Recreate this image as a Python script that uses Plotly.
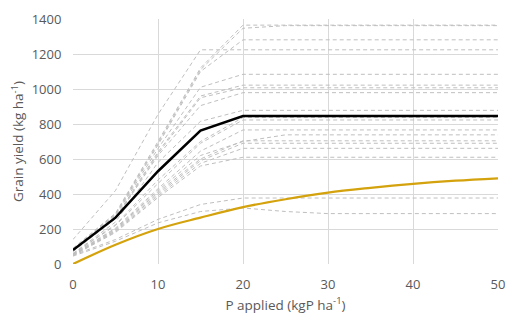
import plotly.graph_objects as go

p_applied = [0, 5, 10, 15, 20, 25, 30, 35, 40, 45, 50]

site_yields = [
    [90, 290, 700, 1120, 1365, 1365, 1365, 1365, 1365, 1365, 1365],
    [85, 285, 690, 1110, 1347, 1362, 1362, 1362, 1362, 1362, 1362],
    [85, 280, 680, 1100, 1281, 1281, 1281, 1281, 1281, 1281, 1281],
    [140, 420, 855, 1224, 1224, 1224, 1224, 1224, 1224, 1224, 1224],
    [80, 275, 660, 1010, 1084, 1084, 1084, 1084, 1084, 1084, 1084],
    [75, 265, 640, 960, 1022, 1022, 1022, 1022, 1022, 1022, 1022],
    [75, 262, 630, 950, 1007, 1007, 1007, 1007, 1007, 1007, 1007],
    [70, 258, 620, 905, 979, 979, 979, 979, 979, 979, 979],
    [60, 240, 580, 815, 878, 878, 878, 878, 878, 878, 878],
    [60, 225, 480, 700, 837, 837, 837, 837, 837, 837, 837],
    [58, 220, 460, 690, 823, 823, 823, 823, 823, 823, 823],
    [55, 205, 430, 645, 766, 766, 766, 766, 766, 766, 766],
    [55, 200, 420, 620, 700, 738, 738, 738, 738, 738, 738],
    [52, 195, 410, 600, 704, 704, 704, 704, 704, 704, 704],
    [50, 190, 400, 590, 690, 690, 690, 690, 690, 690, 690],
    [50, 185, 390, 575, 661, 661, 661, 661, 661, 661, 661],
    [48, 180, 380, 560, 610, 610, 610, 610, 610, 610, 610],
    [50, 140, 255, 340, 377, 377, 377, 377, 377, 377, 377],
    [45, 130, 235, 300, 320, 300, 288, 288, 288, 288, 288],
]

mean_yield = [80, 265, 530, 762, 845, 846, 846, 846, 846, 846, 846]
model_yield = [0, 110, 200, 265, 325, 370, 408, 435, 458, 476, 490]

fig = go.Figure()
for ys in site_yields:
    fig.add_trace(go.Scatter(x=p_applied, y=ys, mode="lines",
                             line=dict(color="#BFBFBF", width=1, dash="4px,3px"),
                             showlegend=False, hoverinfo="skip"))
fig.add_trace(go.Scatter(x=p_applied, y=mean_yield, mode="lines",
                         line=dict(color="#000000", width=2.5), showlegend=False))
fig.add_trace(go.Scatter(x=p_applied, y=model_yield, mode="lines",
                         line=dict(color="#D4A20C", width=2.25, shape="spline"),
                         showlegend=False))

font = "Open Sans"
fig.update_layout(
    width=515, height=320,
    margin=dict(l=73, r=10, t=18, b=55),
    paper_bgcolor="white", plot_bgcolor="white",
    font=dict(family=font, color="#595959", size=13),
    xaxis=dict(range=[0, 50], tickvals=[0, 10, 20, 30, 40, 50],
               showgrid=True, gridcolor="#D9D9D9", gridwidth=1, zeroline=False,
               showline=False, ticks="outside", ticklen=8, tickcolor="rgba(0,0,0,0)",
               title=dict(text="P applied (kgP ha<sup>-1</sup>)", font=dict(size=13.5), standoff=8)),
    yaxis=dict(range=[0, 1400], tickvals=[0, 200, 400, 600, 800, 1000, 1200, 1400],
               showgrid=True, gridcolor="#D9D9D9", gridwidth=1, zeroline=False,
               showline=False, ticks="outside", ticklen=8, tickcolor="rgba(0,0,0,0)",
               title=dict(text="Grain yield (kg ha<sup>-1</sup>)", font=dict(size=13.5), standoff=4)),
)
fig.write_html("out.html")
